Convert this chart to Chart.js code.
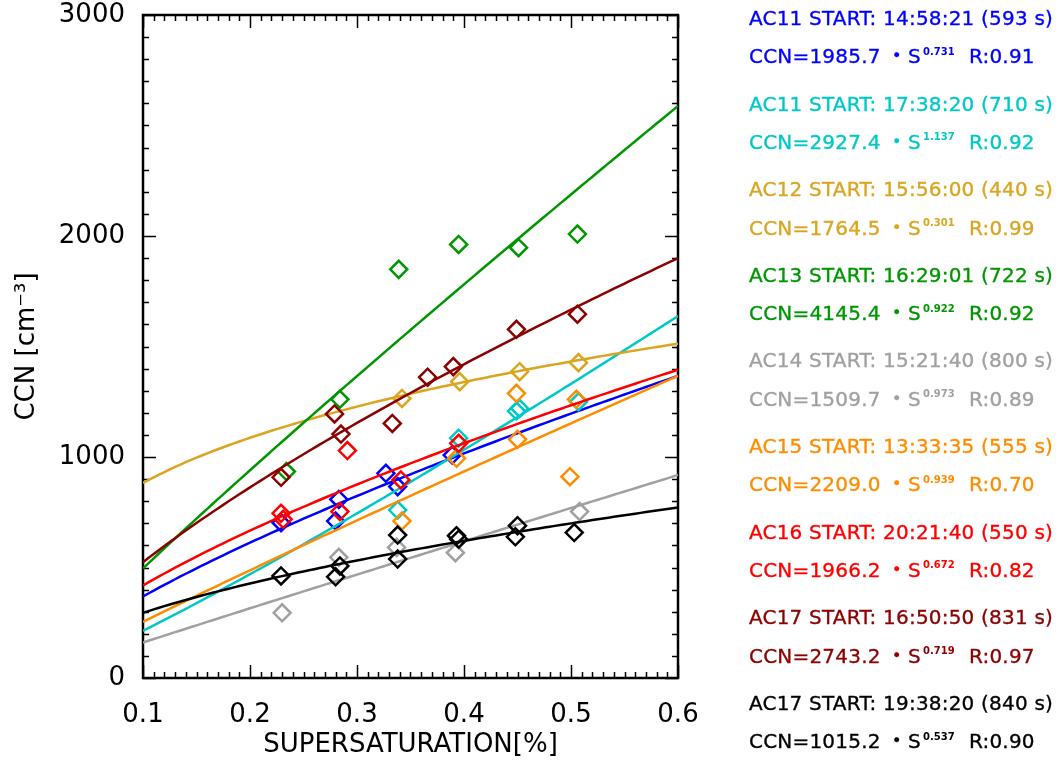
<!DOCTYPE html>
<html>
<head>
<meta charset="utf-8">
<script src="https://cdn.jsdelivr.net/npm/chart.js@4/dist/chart.umd.min.js"></script>
<style>
  body { margin: 0; background: #fff; }
  #wrap { position: relative; width: 1059px; height: 761px; }
  #legend { position: absolute; left: 749px; top: 0; font-family: 'DejaVu Sans', sans-serif; font-size: 20px; letter-spacing: 0.2px; -webkit-text-stroke: 0.35px; }
  .row { position: absolute; left: 0; height: 24px; line-height: 24px; white-space: nowrap; }
  .row span { position: absolute; top: 0; }
  .row .dot { font-size: 16px; letter-spacing: 0; }
  .row .sup { font-size: 10px; font-weight: bold; line-height: 10px; top: 2.5px; letter-spacing: 0; -webkit-text-stroke: 0; }
</style>
</head>
<body>
<div id="wrap">
  <canvas id="ccnChart" width="1059" height="761"></canvas>
  <div id="legend"></div>
</div>
<script>
// Flights / runs
const runLabels = [
  'AC11 START: 14:58:21 (593 s)',
  'AC11 START: 17:38:20 (710 s)',
  'AC12 START: 15:56:00 (440 s)',
  'AC13 START: 16:29:01 (722 s)',
  'AC14 START: 15:21:40 (800 s)',
  'AC15 START: 13:33:35 (555 s)',
  'AC16 START: 20:21:40 (550 s)',
  'AC17 START: 16:50:50 (831 s)',
  'AC17 START: 19:38:20 (840 s)'
];
const runColors = ['#0000ff', '#00c8c8', '#daa520', '#009600', '#a0a0a0', '#ff8c00', '#ff0000', '#8b0000', '#000000'];

// Power-law fit CCN = A * S^B and correlation
const fitA = [1985.7, 2927.4, 1764.5, 4145.4, 1509.7, 2209.0, 1966.2, 2743.2, 1015.2];
const fitB = [0.731, 1.137, 0.301, 0.922, 0.973, 0.939, 0.672, 0.719, 0.537];
const fitR = [0.91, 0.92, 0.99, 0.92, 0.89, 0.70, 0.82, 0.97, 0.90];

// Measured points: supersaturation [%] and CCN [cm-3]
const ssAC11a = [0.229, 0.280, 0.283, 0.327, 0.338, 0.389];
const ccnAC11a = [703, 710, 808, 926, 866, 1009];
const ssAC11b = [0.338, 0.395, 0.449, 0.452, 0.507];
const ccnAC11b = [760, 1085, 1208, 1220, 1250];
const ssAC12 = [0.342, 0.396, 0.452, 0.507];
const ccnAC12 = [1265, 1341, 1386, 1427];
const ssAC13 = [0.234, 0.284, 0.339, 0.395, 0.451, 0.506];
const ccnAC13 = [934, 1261, 1849, 1962, 1947, 2009];
const ssAC14 = [0.230, 0.283, 0.337, 0.392, 0.508];
const ccnAC14 = [295, 546, 591, 567, 753];
const ssAC15 = [0.342, 0.393, 0.449, 0.450, 0.499, 0.505];
const ccnAC15 = [710, 994, 1288, 1080, 911, 1261];
const ssAC16 = [0.229, 0.231, 0.284, 0.291, 0.341, 0.395];
const ccnAC16 = [745, 718, 753, 1029, 896, 1062];
const ssAC17a = [0.229, 0.279, 0.285, 0.333, 0.366, 0.390, 0.449, 0.506];
const ccnAC17a = [908, 1195, 1104, 1152, 1361, 1409, 1578, 1646];
const ssAC17b = [0.229, 0.280, 0.284, 0.338, 0.338, 0.393, 0.395, 0.448, 0.450, 0.503];
const ccnAC17b = [462, 458, 507, 538, 647, 644, 628, 639, 689, 658];

const runSS = [ssAC11a, ssAC11b, ssAC12, ssAC13, ssAC14, ssAC15, ssAC16, ssAC17a, ssAC17b];
const runCCN = [ccnAC11a, ccnAC11b, ccnAC12, ccnAC13, ccnAC14, ccnAC15, ccnAC16, ccnAC17a, ccnAC17b];

// Axis tick values
const xTicks = [0.1, 0.2, 0.3, 0.4, 0.5, 0.6];
const yTicks = [0, 1000, 2000, 3000];

// sample positions for the fit curves
const sGrid = [];
for (let i = 0; i <= 100; i++) sGrid.push(0.1 + i * 0.005);

const datasets = [];
runLabels.forEach((name, i) => {
  datasets.push({
    type: 'line',
    label: name + ' fit',
    data: sGrid.map(s => ({ x: s, y: fitA[i] * Math.pow(s, fitB[i]) })),
    borderColor: runColors[i],
    borderWidth: 2.5,
    pointRadius: 0,
    fill: false,
    tension: 0,
    order: (8 - i) * 2 + 1
  });
  datasets.push({
    type: 'scatter',
    label: name,
    data: runSS[i].map((s, k) => ({ x: s, y: runCCN[i][k] })),
    pointStyle: 'rectRot',
    radius: 8.5,
    borderWidth: 2.5,
    borderColor: runColors[i],
    backgroundColor: 'rgba(0,0,0,0)',
    order: (8 - i) * 2
  });
});

// box frame with inward major/minor ticks on all four sides
const frameTicks = {
  id: 'frameTicks',
  beforeDatasetsDraw(chart) {
    const { ctx, chartArea: a, scales: { x, y } } = chart;
    ctx.save();
    ctx.strokeStyle = '#000';
    ctx.lineWidth = 1.5;
    ctx.beginPath();
    for (let i = 0; i <= 50; i++) {
      const px = Math.round(x.getPixelForValue(0.1 + i * 0.01)) + 0.5;
      const len = i % 10 === 0 ? 13 : 6;
      ctx.moveTo(px, a.bottom); ctx.lineTo(px, a.bottom - len);
      ctx.moveTo(px, a.top); ctx.lineTo(px, a.top + len);
    }
    for (let i = 0; i <= 30; i++) {
      const py = Math.round(y.getPixelForValue(i * 100)) + 0.5;
      const len = i % 10 === 0 ? 13 : 6;
      ctx.moveTo(a.left, py); ctx.lineTo(a.left + len, py);
      ctx.moveTo(a.right, py); ctx.lineTo(a.right - len, py);
    }
    ctx.stroke();
    ctx.lineWidth = 2.5;
    ctx.strokeRect(a.left, a.top, a.right - a.left, a.bottom - a.top);
    ctx.restore();
  }
};

const tickFont = { family: 'DejaVu Sans', size: 26 };
const titleFont = { family: 'DejaVu Sans', size: 26 };

new Chart(document.getElementById('ccnChart'), {
  type: 'scatter',
  data: { datasets },
  options: {
    responsive: false,
    animation: false,
    layout: { padding: { top: 15, right: 381, left: 0, bottom: 0 } },
    plugins: { legend: { display: false }, tooltip: { enabled: false } },
    scales: {
      x: {
        type: 'linear',
        min: xTicks[0],
        max: xTicks[xTicks.length - 1],
        afterBuildTicks(s) { s.ticks = xTicks.map(v => ({ value: v })); },
        afterFit(s) { s.height = 83; s.paddingLeft = 0; s.paddingRight = 0; },
        ticks: { color: '#000', font: tickFont, padding: 14, maxRotation: 0, callback: v => v.toFixed(1) },
        grid: { display: false },
        border: { display: false },
        title: { display: true, text: 'SUPERSATURATION[%]', color: '#000', font: titleFont, padding: { top: 0, bottom: 0 } }
      },
      y: {
        min: yTicks[0],
        max: yTicks[yTicks.length - 1],
        afterBuildTicks(s) { s.ticks = yTicks.map(v => ({ value: v })); },
        afterFit(s) { s.width = 143; s.paddingTop = 0; s.paddingBottom = 0; },
        ticks: { color: '#000', font: tickFont, padding: 10, callback: v => String(v) },
        grid: { display: false },
        border: { display: false },
        title: { display: true, text: 'CCN [cm⁻³]', color: '#000', font: titleFont, padding: { top: 12, bottom: 0 } }
      }
    }
  },
  plugins: [frameTicks]
});

// run list with fit equations on the right
const legend = document.getElementById('legend');
runLabels.forEach((name, i) => {
  const head = 18 + 85.6 * i;
  const eq = head + 38.3;
  const c = runColors[i];
  const r1 = document.createElement('div');
  r1.className = 'row';
  r1.style.top = (head - 12) + 'px';
  r1.style.color = c;
  r1.innerHTML = '<span style="left:0">' + name + '</span>';
  legend.appendChild(r1);
  const r2 = document.createElement('div');
  r2.className = 'row';
  r2.style.top = (eq - 12) + 'px';
  r2.style.color = c;
  r2.innerHTML =
    '<span style="left:0">CCN=' + fitA[i].toFixed(1) + '</span>' +
    '<span class="dot" style="left:143px">•</span>' +
    '<span style="left:159px">S</span>' +
    '<span class="sup" style="left:174px">' + fitB[i].toFixed(3) + '</span>' +
    '<span style="left:220px">R:' + fitR[i].toFixed(2) + '</span>';
  legend.appendChild(r2);
});
</script>
</body>
</html>
